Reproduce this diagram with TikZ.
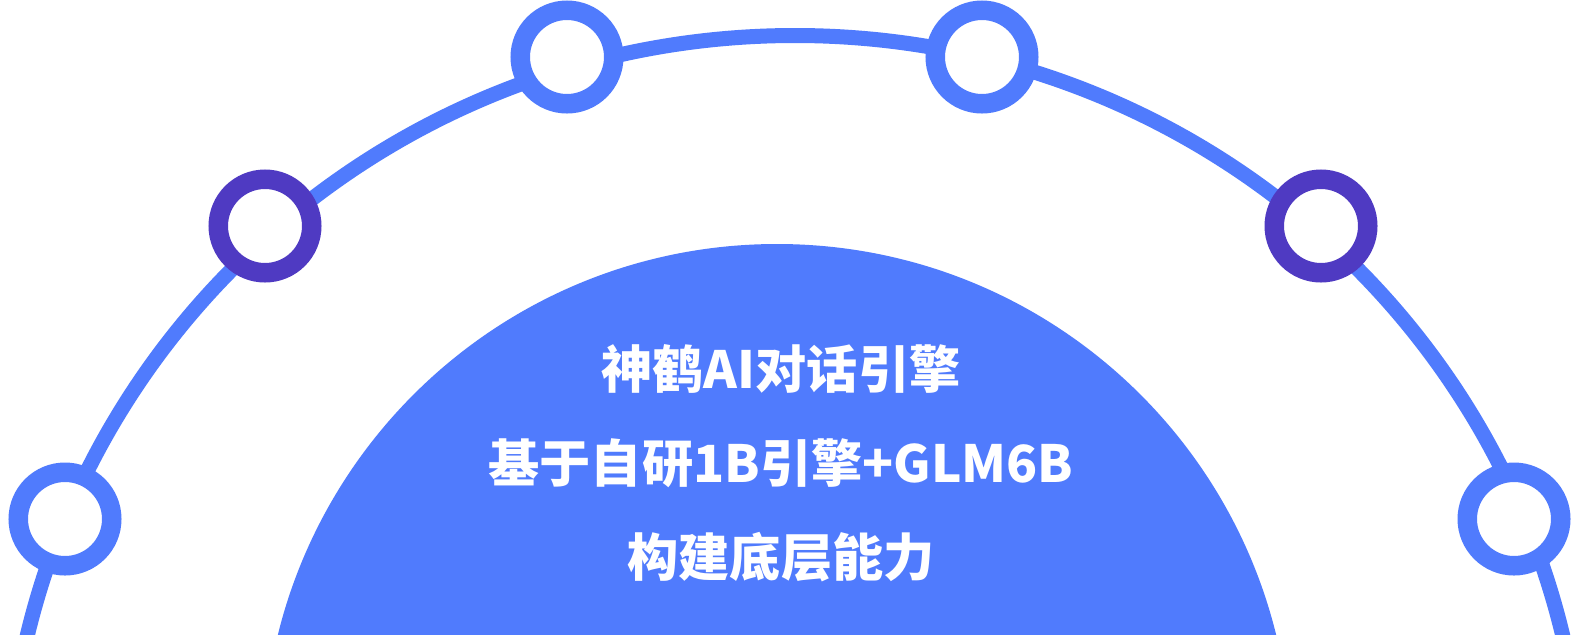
\documentclass[tikz,border=0pt]{standalone}
\usepackage{fontspec}
\newfontfamily\cjk{Noto Sans CJK SC}
\definecolor{mainblue}{RGB}{80,123,253}
\definecolor{deeppurple}{RGB}{79,58,194}
\tikzset{
  ring/.style={circle, draw=mainblue, fill=white, line width=9.75pt, minimum size=46.75pt, inner sep=0pt, outer sep=0pt},
  purplering/.style={ring, draw=deeppurple},
  orbit/.style={draw=mainblue, line width=7.5pt},
  dome/.style={fill=mainblue},
  domelabel/.style={text=white, inner sep=0pt, font=\cjk\bfseries\fontsize{25.6}{30}\selectfont}
}
\begin{document}
\begin{tikzpicture}[x=0.5pt,y=-0.5pt]
\useasboundingbox (0,0) rectangle (1596,634);
\clip (0,0) rectangle (1596,634);
\fill[white] (0,0) rectangle (1596,634);
% orbit
\draw[orbit] (795,816.5) ellipse [x radius=394.5pt, y radius=390.5pt];
% dome
\fill[dome] (777,758) circle [radius=257pt];
% rings on the orbit
\node[ring] (c1) at (65,519) {};
\node[purplering] (c2) at (265,226) {};
\node[ring] (c3) at (567,57) {};
\node[ring] (c4) at (982,57) {};
\node[purplering] (c5) at (1321,226) {};
\node[ring] (c6) at (1514,519) {};
% texts
\node[domelabel] (t1) at (781,369) {神鹤AI对话引擎};
\node[domelabel] (t2) at (781,463) {基于自研1B引擎+GLM6B};
\node[domelabel] (t3) at (781,557) {构建底层能力};
\end{tikzpicture}
\end{document}
